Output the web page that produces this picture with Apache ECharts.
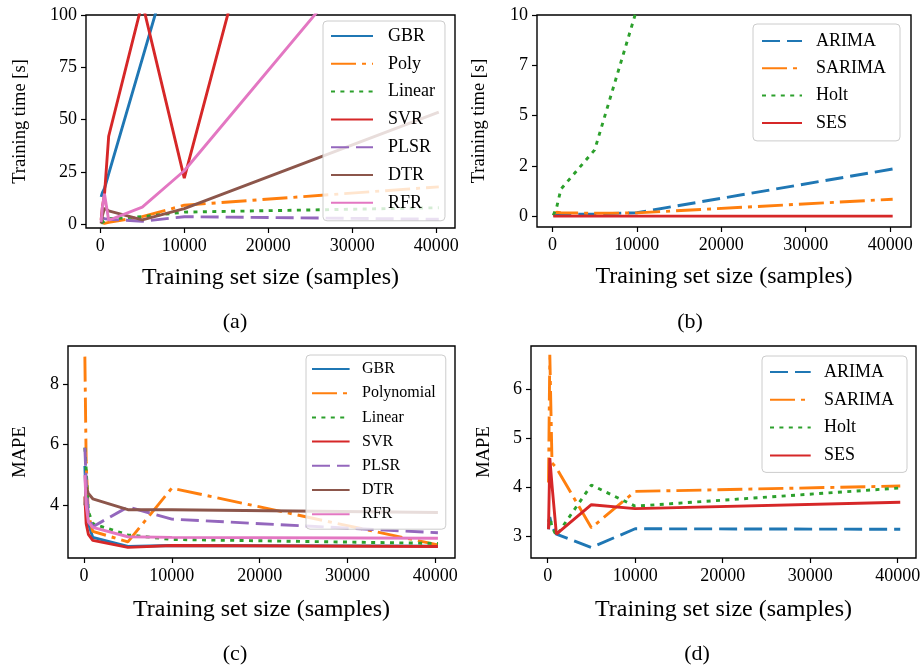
<!DOCTYPE html>
<html>
<head>
<meta charset="utf-8">
<script src="https://cdn.jsdelivr.net/npm/echarts@6/dist/echarts.min.js"></script>
<style>html,body{margin:0;padding:0;background:#fff}#c{width:924px;height:668px}</style>
</head>
<body>
<div id="c"></div>
<script>
// ---------- data ----------
const sampleSizes = [100, 250, 500, 1000, 5000, 10000, 40300];
const xTicks = [0, 10000, 20000, 30000, 40000];

// (a) training time, regression models [s]
const timeGBR    = [13, 15, 17, 24, 79, 148, 590];
const timePoly   = [1, 0.5, 0.3, 0.8, 3.5, 9, 17.8];
const timeLinear = [0.3, 1, 1.5, 2.5, 3.5, 5.7, 7.8];
const timeSVR    = [2, 8, 14, 42, 106, 22, 480];
const timePLSR   = [3, 2.8, 2.6, 2.3, 1.3, 3.5, 2.3];
const timeDTR    = [0.3, 4, 7.5, 6.3, 2.0, 7.4, 53.5];
const timeRFR    = [1, 8, 14.5, 1.8, 8.1, 25.5, 171];
const yTicksA = [0, 25, 50, 75, 100];

// (b) training time, time-series models [s]
const timeARIMA  = [0.05, 0.05, 0.06, 0.08, 0.12, 0.18, 2.35];
const timeSARIMA = [0.15, 0.18, 0.2, 0.18, 0.15, 0.17, 0.85];
const timeHolt   = [0.05, 0.12, 0.45, 1.35, 3.3, 10.3, 45];
const timeSES    = [0.01, 0.01, 0.01, 0.01, 0.01, 0.01, 0.01];
const yTicksB = [0, 2.5, 5, 7.5, 10];
const yTickLabelsB = ['0', '2', '5', '7', '10'];

// (c) MAPE, regression models
const mapeGBR    = [5.3, 4.0, 3.4, 2.95, 2.65, 2.68, 2.66];
const mapePoly   = [8.9, 5.4, 3.7, 3.15, 2.8, 4.57, 2.7];
const mapeLinear = [5.9, 5.2, 3.8, 3.4, 3.03, 2.88, 2.75];
const mapeSVR    = [4.3, 3.4, 3.05, 2.85, 2.62, 2.68, 2.65];
const mapePLSR   = [5.9, 4.8, 3.6, 3.3, 3.95, 3.55, 3.1];
const mapeDTR    = [4.0, 4.6, 4.4, 4.22, 3.86, 3.86, 3.77];
const mapeRFR    = [5.0, 4.0, 3.45, 3.28, 2.97, 2.95, 2.92];
const yTicksC = [4, 6, 8];

// (d) MAPE, time-series models
const mapeARIMA  = [3.15, 3.4, 3.2, 3.05, 2.78, 3.16, 3.15];
const mapeSARIMA = [4.1, 6.7, 4.5, 4.4, 3.18, 3.92, 4.03];
const mapeHolt   = [3.3, 3.4, 3.2, 3.02, 4.05, 3.62, 3.99];
const mapeSES    = [3.15, 4.6, 4.05, 3.05, 3.65, 3.57, 3.7];
const yTicksD = [3, 4, 5, 6];

const legendA = ['GBR', 'Poly', 'Linear', 'SVR', 'PLSR', 'DTR', 'RFR'];
const legendB = ['ARIMA', 'SARIMA', 'Holt', 'SES'];
const legendC = ['GBR', 'Polynomial', 'Linear', 'SVR', 'PLSR', 'DTR', 'RFR'];
const legendD = ['ARIMA', 'SARIMA', 'Holt', 'SES'];
const captions = ['(a)', '(b)', '(c)', '(d)'];

// ---------- styles ----------
const F = '"Liberation Serif", "Times New Roman", serif';
const C = {blue:'#1f77b4', orange:'#ff7f0e', green:'#2ca02c', red:'#d62728', purple:'#9467bd', brown:'#8c564b', pink:'#e377c2'};
const SOLID = 'solid', DASH = [18, 7], DASHDOT = [25, 6, 4, 6], DOT = [4, 5.4];
const LW = 2.9;

function pairs(vals) { return sampleSizes.map((x, i) => [x, vals[i]]); }
function line(name, vals, idx, color, type) {
  return {
    type: 'line', name, data: pairs(vals), xAxisIndex: idx, yAxisIndex: idx,
    symbol: 'none', clip: true, animation: false,
    lineStyle: {color, width: LW, type, cap: 'butt'},
    itemStyle: {color}
  };
}
const grids = [
  {left: 86, top: 15, width: 369, height: 213},
  {left: 537, top: 15, width: 374, height: 212},
  {left: 68, top: 346, width: 387, height: 212},
  {left: 531, top: 346, width: 385, height: 212}
].map(g => Object.assign({show: true, borderColor: '#000', borderWidth: 1.4, backgroundColor: 'transparent', containLabel: false}, g));

const xRanges = [[-1700, 42230], [-1830, 42470], [-1820, 42245], [-1900, 42100]];
const xNameGaps = [38, 38, 40, 40];
const xAxes = xRanges.map((r, i) => ({
  type: 'value', gridIndex: i, min: r[0], max: r[1], position: 'bottom',
  axisLine: {show: false, onZero: false}, splitLine: {show: false},
  axisTick: {show: true, length: 5, lineStyle: {color: '#000', width: 1.2}, customValues: xTicks},
  axisLabel: {customValues: xTicks, margin: 9, color: '#000', fontFamily: F, fontSize: 18, formatter: v => String(v)},
  name: 'Training set size (samples)', nameLocation: 'middle', nameGap: xNameGaps[i],
  nameTextStyle: {color: '#000', fontFamily: F, fontSize: 24, lineHeight: 24}
}));
function yAxis(i, min, max, ticks, name, gap, fmt) {
  return {
    type: 'value', gridIndex: i, min, max, position: 'left',
    axisLine: {show: false, onZero: false}, splitLine: {show: false},
    axisTick: {show: true, length: 5, lineStyle: {color: '#000', width: 1.2}, customValues: ticks},
    axisLabel: {customValues: ticks, margin: 9, color: '#000', fontFamily: F, fontSize: 18, formatter: fmt || (v => String(v))},
    name, nameLocation: 'middle', nameGap: gap,
    nameTextStyle: {color: '#000', fontFamily: F, fontSize: 18.5}
  };
}
const yAxes = [
  yAxis(0, -1.9, 100, yTicksA, 'Training time [s]', 56),
  yAxis(1, -0.53, 10, yTicksB, 'Training time [s]', 48, v => yTickLabelsB[yTicksB.indexOf(v)]),
  yAxis(2, 2.27, 9.25, yTicksC, 'MAPE', 38),
  yAxis(3, 2.565, 6.88, yTicksD, 'MAPE', 37)
];

const series = [
  line('GBR', timeGBR, 0, C.blue, SOLID),
  line('Poly', timePoly, 0, C.orange, DASHDOT),
  line('Linear', timeLinear, 0, C.green, DOT),
  line('SVR', timeSVR, 0, C.red, SOLID),
  line('PLSR', timePLSR, 0, C.purple, DASH),
  line('DTR', timeDTR, 0, C.brown, SOLID),
  line('RFR', timeRFR, 0, C.pink, SOLID),
  line('ARIMA', timeARIMA, 1, C.blue, DASH),
  line('SARIMA', timeSARIMA, 1, C.orange, DASHDOT),
  line('Holt', timeHolt, 1, C.green, DOT),
  line('SES', timeSES, 1, C.red, SOLID),
  line('GBR', mapeGBR, 2, C.blue, SOLID),
  line('Polynomial', mapePoly, 2, C.orange, DASHDOT),
  line('Linear', mapeLinear, 2, C.green, DOT),
  line('SVR', mapeSVR, 2, C.red, SOLID),
  line('PLSR', mapePLSR, 2, C.purple, DASH),
  line('DTR', mapeDTR, 2, C.brown, SOLID),
  line('RFR', mapeRFR, 2, C.pink, SOLID),
  line('ARIMA', mapeARIMA, 3, C.blue, DASH),
  line('SARIMA', mapeSARIMA, 3, C.orange, DASHDOT),
  line('Holt', mapeHolt, 3, C.green, DOT),
  line('SES', mapeSES, 3, C.red, SOLID)
];

function legend(data, left, top, iw, gap, tpad, fs, pad) {
  return {
    orient: 'vertical', left, top, data, selectedMode: false,
    itemWidth: iw, itemHeight: fs, itemGap: gap, padding: pad,
    backgroundColor: 'rgba(255,255,255,0.8)', borderColor: '#cccccc', borderWidth: 1, borderRadius: 4,
    itemStyle: {opacity: 0},
    textStyle: {fontFamily: F, fontSize: fs, color: '#000', lineHeight: fs, padding: [0, 0, 0, tpad]}
  };
}
const legends = [
  legend(legendA, 323, 21, 42, 9.8, 10, 18, [6, 10, 9, 7]),
  legend(legendB, 753, 24, 40, 9.3, 9, 18, [8, 14, 9, 8]),
  legend(legendC, 306, 355, 37.6, 8.2, 7.4, 16, [6, 10, 7, 5]),
  legend(legendD, 762, 356, 40.7, 9.8, 8.3, 18, [7, 13, 8, 7])
];

const capPos = [[235, 322], [690, 322], [235, 654], [697, 654]];
const graphics = captions.map((t, i) => ({
  type: 'text', x: capPos[i][0], y: capPos[i][1],
  style: {text: t, font: '22px ' + F, fill: '#000', align: 'center', verticalAlign: 'middle', textAlign: 'center', textVerticalAlign: 'middle'}
}));

const chart = echarts.init(document.getElementById('c'), null, {renderer: 'canvas'});
chart.setOption({
  animation: false,
  backgroundColor: '#fff',
  grid: grids, xAxis: xAxes, yAxis: yAxes, series, legend: legends, graphic: graphics
});
</script>
</body>
</html>
